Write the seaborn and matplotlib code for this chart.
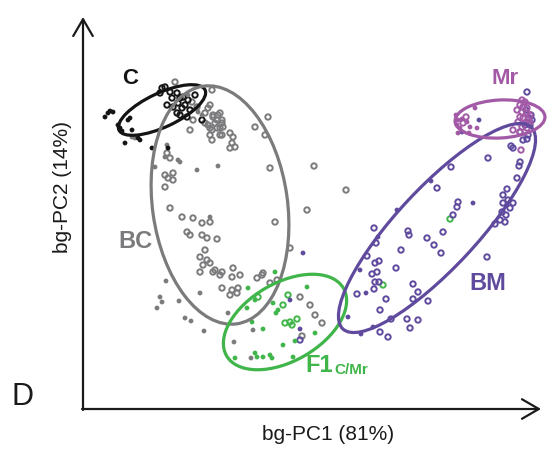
import numpy as np
import pandas as pd
import matplotlib
matplotlib.use("Agg")
import matplotlib.pyplot as plt
from matplotlib.patches import Ellipse, ArrowStyle
import seaborn as sns

# ---------------- data (bg-PC1 / bg-PC2 scores, arbitrary units) ----------------
c_filled_x = [22, 27, 30, 35, 37, 45, 47, 49, 42, 57, 55, 69, 85, 25, 39]
c_filled_y = [292, 298, 297, 284, 281, 289, 291, 279, 266, 269, 271, 261, 261, 296, 278]
c_open_x = [79, 82, 77, 89, 94, 97, 100, 95, 102, 105, 112, 94, 97, 104, 119, 90, 84, 87, 107, 99]
c_open_y = [321, 322, 316, 311, 316, 311, 312, 306, 304, 309, 314, 296, 294, 292, 289, 302, 304, 317, 299, 301]

bc_open_x = [92, 129, 127, 122, 130, 137, 134, 139, 125, 129, 137, 127, 139, 147, 150, 149, 152, 147,
             185, 172, 182, 107, 125, 130, 135, 139, 132, 127, 134, 140, 137, 84, 87, 82, 90, 85, 90,
             82, 187, 87, 99, 110, 119, 127, 104, 107, 119, 124, 134, 192, 122, 117, 124, 127, 120,
             117, 132, 139, 137, 150, 149, 157, 139, 149, 155, 147, 154, 174, 180, 187, 194, 217,
             224, 207, 231, 263, 227, 232, 239, 219, 179, 109, 114, 122, 130, 110, 129]
bc_open_y = [327, 319, 304, 296, 294, 296, 289, 286, 284, 279, 281, 274, 274, 276, 272, 266, 262, 261,
             292, 282, 274, 279, 301, 292, 294, 289, 286, 281, 281, 282, 274, 256, 251, 234, 236, 231,
             229, 222, 241, 201, 192, 191, 186, 187, 177, 174, 174, 171, 170, 187, 159, 152, 149, 146,
             144, 137, 139, 137, 134, 141, 132, 134, 121, 119, 121, 114, 116, 131, 136, 126, 129, 112,
             199, 161, 243, 219, 104, 94, 86, 73, 134, 307, 302, 286, 137, 289, 269]
bc_filled_x = [72, 97, 114, 135, 127, 83, 77, 79, 74, 96, 117, 102, 108, 121, 145, 151, 168, 170,
               49, 52, 84, 82, 95, 105, 115, 119]
bc_filled_y = [242, 247, 239, 243, 192, 128, 112, 107, 101, 108, 116, 91, 88, 78, 96, 67, 51, 79,
               272, 271, 264, 252, 249, 314, 297, 294]

f1_filled_x = [192, 165, 172, 190, 195, 164, 169, 180, 224, 200, 232, 212, 152, 172, 174, 180, 187,
               189, 210, 193]
f1_filled_y = [137, 121, 109, 106, 99, 101, 87, 80, 122, 64, 76, 68, 51, 56, 52, 52, 54, 51, 52, 96]
f1_open_x = [175, 205, 200, 202, 207, 214, 209, 367, 300]
f1_open_y = [112, 114, 104, 86, 87, 90, 84, 190, 124]

bm_open_x = [444, 405, 368, 354, 375, 374, 370, 434, 436, 437, 430, 428, 440, 444, 424, 420, 425, 420,
             430, 427, 419, 423, 417, 422, 412, 404, 325, 344, 360, 351, 358, 318, 313, 284, 293, 292,
             296, 289, 294, 292, 296, 291, 274, 330, 335, 330, 303, 345, 297, 324, 335, 327, 308, 297,
             305, 291, 326, 442, 448, 437, 445, 217, 443, 446, 447, 449]
bm_open_y = [317, 251, 242, 221, 207, 202, 194, 231, 243, 247, 261, 263, 269, 270, 220, 214, 209, 206,
             206, 201, 197, 194, 189, 187, 185, 152, 178, 171, 177, 164, 156, 159, 141, 153, 166, 146,
             148, 135, 137, 127, 127, 120, 115, 125, 117, 110, 110, 108, 99, 90, 89, 81, 90, 77, 72,
             181, 174, 284, 294, 277, 274, 69, 299, 291, 284, 289]
bm_filled_x = [348, 390, 314, 295, 277, 283, 265, 278, 290, 220, 207, 217, 396, 379]
bm_filled_y = [228, 206, 199, 172, 139, 116, 92, 75, 82, 156, 109, 80, 289, 277]

mr_filled_x = [373, 375, 374, 379, 377, 375, 384, 387, 392, 394, 386]
mr_filled_y = [294, 289, 284, 290, 281, 276, 287, 282, 301, 281, 276]
mr_open_x = [380, 383, 439, 442, 437, 440, 444, 434, 439, 444, 447, 437, 440, 445, 435, 442, 447, 439,
             444, 437, 430, 438]
mr_open_y = [286, 292, 309, 307, 304, 302, 301, 299, 297, 296, 294, 292, 291, 289, 287, 286, 287, 282,
             281, 277, 279, 259]

# ellipse summaries per group: centre PC1, centre PC2, width, height, angle
groups = ["C", "BC", "F1", "BM", "Mr"]
ell_cx = [79, 137, 202, 354, 417]
ell_cy = [299, 204, 87, 181, 290]
ell_w = [95, 135, 135, 276, 90]
ell_h = [34, 240, 78, 80, 38]
ell_ang = [25, 8, 30, 47, 3]

colors = {"C": "#141414", "BC": "#7b7b7d", "F1": "#3fb54a", "BM": "#5f4a9e", "Mr": "#a25aa7"}

# ---------------- figure ----------------
sns.set_style("white")
plt.rcParams["font.family"] = ["Liberation Sans", "DejaVu Sans"]

fig = plt.figure(figsize=(5.58, 4.5), dpi=100)
ax = fig.add_axes([0, 0, 1, 1])
ax.set_xlim(-83, 475)
ax.set_ylim(-41, 409)
ax.set_axis_off()

def frame(x, y):
    return pd.DataFrame({"PC1": x, "PC2": y})

open_sets = [("BC", bc_open_x, bc_open_y), ("C", c_open_x, c_open_y),
             ("F1", f1_open_x, f1_open_y), ("BM", bm_open_x, bm_open_y),
             ("Mr", mr_open_x, mr_open_y)]
filled_sets = [("BC", bc_filled_x, bc_filled_y), ("C", c_filled_x, c_filled_y),
               ("F1", f1_filled_x, f1_filled_y), ("BM", bm_filled_x, bm_filled_y),
               ("Mr", mr_filled_x, mr_filled_y)]

for g, x, y in open_sets:
    sns.scatterplot(data=frame(x, y), x="PC1", y="PC2", ax=ax, marker="o", s=15,
                    facecolor="none", edgecolor=colors[g], linewidth=1.4, legend=False, zorder=2)
for g, x, y in filled_sets:
    sns.scatterplot(data=frame(x, y), x="PC1", y="PC2", ax=ax, marker="o", s=12,
                    color=colors[g], edgecolor="none", linewidth=0, legend=False, zorder=2)

for g, cx, cy, w, h, a in zip(groups, ell_cx, ell_cy, ell_w, ell_h, ell_ang):
    ax.add_patch(Ellipse((cx, cy), w, h, angle=a, fill=False, edgecolor=colors[g],
                         linewidth=2.3, zorder=3))

# axes as arrows
astyle = ArrowStyle("->", head_length=0.55, head_width=0.32)
ax.annotate("", xy=(458, 0), xytext=(-1, 0),
            arrowprops=dict(arrowstyle=astyle, lw=1.6, color="#1a1a1a", mutation_scale=22,
                            shrinkA=0, shrinkB=0))
ax.annotate("", xy=(0, 392), xytext=(0, -1),
            arrowprops=dict(arrowstyle=astyle, lw=1.6, color="#1a1a1a", mutation_scale=22,
                            shrinkA=0, shrinkB=0))

ax.text(245, -26, "bg-PC1 (81%)", ha="center", va="center", fontsize=15, color="#1a1a1a")
ax.text(-21, 222, "bg-PC2 (14%)", ha="center", va="center", rotation=90, fontsize=15,
        color="#1a1a1a")
ax.text(-61, 12, "D", ha="center", va="center", fontsize=22, color="#1a1a1a")

ax.text(47, 331, "C", ha="center", va="center", fontsize=16, fontweight="bold", color=colors["C"])
ax.text(422, 331, "Mr", ha="center", va="center", fontsize=16, fontweight="bold", color=colors["Mr"])
ax.text(52, 167, "BC", ha="center", va="center", fontsize=17, fontweight="bold", color=colors["BC"])
ax.text(405, 126, "BM", ha="center", va="center", fontsize=17, fontweight="bold", color=colors["BM"])
t1 = ax.text(222, 37, "F1", ha="left", va="baseline", fontsize=17, fontweight="bold",
             color=colors["F1"])
ax.annotate("C/Mr", xy=(1, 0), xycoords=t1, xytext=(1, 0), textcoords="offset points",
            ha="left", va="bottom", fontsize=11, fontweight="bold", color=colors["F1"])

fig.savefig("out.png", dpi=100)
